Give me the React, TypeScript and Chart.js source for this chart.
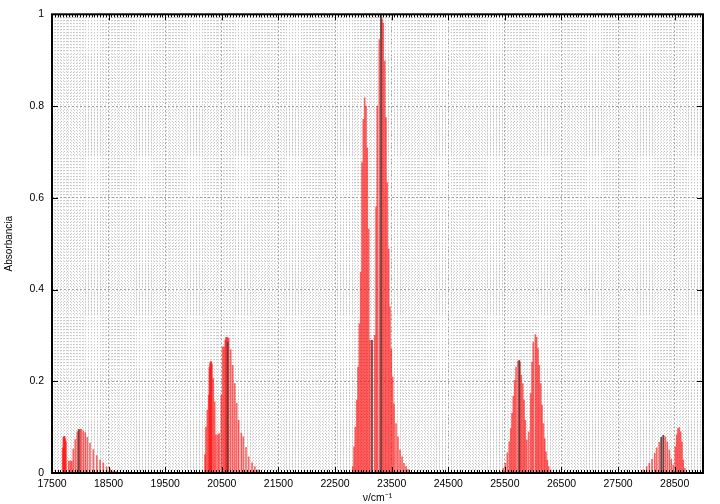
import React, { useEffect, useRef } from "react";
import { Chart, registerables } from "chart.js";

Chart.register(...registerables);

const X_MIN = 17500;
const X_MAX = 29000;
const X_MINOR_STEP = 50;
const Y_MINOR_DIV = 150;

const xTickLabels = ["17500", "18500", "19500", "20500", "21500", "22500", "23500", "24500", "25500", "26500", "27500", "28500"];
const yTickLabels = ["0", "0.2", "0.4", "0.6", "0.8", "1"];

const redWavenumbers = [
  17689, 17700, 17712, 17724, 17735, 17747, 17795, 17823, 17848,
  17876, 17912, 17947, 17972, 17995, 18018, 18053, 18088, 18124, 18171, 18230, 18290, 18348, 18406, 18466, 18525, 18578, 18631,
  20203, 20220, 20243, 20268, 20279, 20291, 20303, 20314, 20326, 20349, 20374, 20397,
  20432, 20455, 20491, 20515, 20538, 20561, 20574, 20586, 20604, 20621, 20657, 20692, 20727, 20763, 20798, 20844, 20879, 20927, 20975, 21033, 21081, 21139,
  22812, 22835, 22858, 22883, 22906, 22929, 22953, 22976, 22999, 23024, 23047, 23070, 23094, 23117, 23152, 23200,
  23224, 23246, 23282, 23312, 23330, 23352, 23377, 23400, 23423, 23448, 23471, 23494, 23518, 23541, 23577, 23612, 23647, 23683, 23718, 23753, 23789,
  25414, 25472, 25508, 25543, 25578, 25603, 25626, 25649, 25674, 25697, 25732, 25755, 25767, 25790, 25815, 25838, 25861, 25886,
  25921, 25956, 25979, 26002, 26038, 26062, 26085, 26108, 26133, 26156, 26180, 26204, 26227, 26250, 26274, 26309,
  27945, 28005, 28051, 28099, 28147, 28182, 28228, 28263, 28299, 28334, 28369, 28405, 28440, 28475,
  28511, 28535, 28558, 28581, 28606, 28629, 28652, 28677,
];
const redAbsorbance = [
  0.055, 0.078, 0.080, 0.080, 0.075, 0.068, 0.026, 0.026, 0.026,
  0.052, 0.073, 0.090, 0.095, 0.095, 0.095, 0.092, 0.088, 0.078, 0.065, 0.051, 0.038, 0.028, 0.022, 0.013, 0.009, 0.005, 0.003,
  0.040, 0.100, 0.137, 0.170, 0.231, 0.240, 0.243, 0.243, 0.238, 0.206, 0.155, 0.083,
  0.083, 0.086, 0.170, 0.275, 0.275, 0.290, 0.296, 0.296, 0.295, 0.293, 0.269, 0.235, 0.195, 0.152, 0.115, 0.087, 0.079, 0.056, 0.035, 0.022, 0.014, 0.007,
  0.014, 0.057, 0.100, 0.159, 0.231, 0.325, 0.438, 0.677, 0.771, 0.818, 0.800, 0.709, 0.532, 0.289, 0.289, 0.300,
  0.580, 0.800, 0.945, 1.000, 0.990, 0.981, 0.898, 0.775, 0.633, 0.488, 0.362, 0.271, 0.209, 0.151, 0.108, 0.079, 0.050, 0.035, 0.021, 0.014, 0.008,
  0.003, 0.010, 0.021, 0.044, 0.068, 0.097, 0.130, 0.167, 0.202, 0.231, 0.244, 0.245, 0.242, 0.213, 0.195, 0.159, 0.115, 0.072,
  0.090, 0.173, 0.242, 0.285, 0.302, 0.296, 0.271, 0.235, 0.195, 0.148, 0.108, 0.075, 0.046, 0.028, 0.014, 0.007,
  0.007, 0.014, 0.021, 0.030, 0.043, 0.055, 0.067, 0.078, 0.082, 0.079, 0.068, 0.050, 0.030, 0.017,
  0.057, 0.083, 0.097, 0.099, 0.090, 0.068, 0.028, 0.010,
];

const blackWavenumbers = [17972, 20604, 23152, 23312, 25755, 28263, 28299];
const blackAbsorbance = [0.094, 0.285, 0.289, 1.0, 0.245, 0.078, 0.082];

const xMajorValues = xTickLabels.map(Number);
const isXMajor = (v: number) => xMajorValues.some((m) => Math.abs(m - v) < 1e-6);
const isYMajor = (v: number) => Math.abs(v * 5 - Math.round(v * 5)) < 1e-6;

const framePlugin = {
  id: "frame",
  afterDatasetsDraw(chart: any) {
    const { ctx, chartArea: a, scales } = chart;
    const x = scales.x;
    const y = scales.y;
    ctx.save();
    ctx.strokeStyle = "#000";
    ctx.lineWidth = 1;
    ctx.beginPath();
    for (let v = X_MIN; v <= X_MAX + 1e-6; v += X_MINOR_STEP) {
      const px = Math.round(x.getPixelForValue(v)) + 0.5;
      const len = isXMajor(v) ? 6 : 3;
      ctx.moveTo(px, a.bottom);
      ctx.lineTo(px, a.bottom - len);
      ctx.moveTo(px, a.top);
      ctx.lineTo(px, a.top + len);
    }
    yTickLabels.forEach((lbl) => {
      const py = Math.round(y.getPixelForValue(Number(lbl))) + 0.5;
      ctx.moveTo(a.left, py);
      ctx.lineTo(a.left + 6, py);
      ctx.moveTo(a.right, py);
      ctx.lineTo(a.right - 6, py);
    });
    ctx.stroke();
    ctx.lineWidth = 2;
    ctx.strokeRect(a.left, a.top, a.right - a.left, a.bottom - a.top);
    ctx.restore();
  },
};

export default function App() {
  const canvasRef = useRef<HTMLCanvasElement | null>(null);

  useEffect(() => {
    if (!canvasRef.current) return;
    Chart.defaults.font.family = "'Liberation Sans', Arial, sans-serif";
    Chart.defaults.color = "#000";

    const redData = redWavenumbers.map((w, i) => ({ x: w, y: redAbsorbance[i] }));
    const blackData = blackWavenumbers.map((w, i) => ({ x: w, y: blackAbsorbance[i] }));

    const chart = new Chart(canvasRef.current, {
      type: "bar",
      data: {
        datasets: [
          {
            label: "black",
            data: blackData as any,
            backgroundColor: "rgba(60,60,60,0.75)",
            barThickness: 1,
            borderWidth: 0,
            grouped: false,
          } as any,
          {
            label: "red",
            data: redData as any,
            backgroundColor: "rgba(255,0,0,0.6)",
            barThickness: 1,
            borderWidth: 0,
            grouped: false,
          } as any,
        ],
      },
      options: {
        animation: false,
        responsive: false,
        events: [],
        layout: { padding: { top: 12, right: 17, left: 0, bottom: 0 } },
        plugins: { legend: { display: false }, tooltip: { enabled: false } },
        scales: {
          x: {
            type: "linear",
            min: X_MIN,
            max: X_MAX,
            offset: false,
            afterBuildTicks: (s: any) => {
              const t = [];
              for (let v = X_MIN; v <= X_MAX + 1e-6; v += X_MINOR_STEP) t.push({ value: v });
              s.ticks = t;
            },
            afterFit: (s: any) => {
              s.height = 31;
            },
            ticks: {
              autoSkip: false,
              maxRotation: 0,
              minRotation: 0,
              padding: 5,
              font: { size: 10.5 },
              callback: (v: any) => {
                const idx = xMajorValues.findIndex((m) => Math.abs(m - Number(v)) < 1e-6);
                return idx >= 0 ? xTickLabels[idx] : "";
              },
            },
            grid: {
              offset: false,
              drawTicks: false,
              lineWidth: 1,
              color: (c: any) => (c.tick && isXMajor(c.tick.value) ? "#a0a0a0" : "#c4c4c4"),
            },
            border: {
              display: false,
              dash: (c: any) => (c.tick && isXMajor(c.tick.value) ? [2, 2] : [1, 2]),
            },
            title: {
              display: true,
              text: "ν/cm⁻¹",
              font: { size: 10.5 },
              padding: { top: 0, bottom: 0 },
            },
          } as any,
          y: {
            type: "linear",
            min: 0,
            max: 1,
            afterBuildTicks: (s: any) => {
              const t = [];
              for (let k = 0; k <= Y_MINOR_DIV; k++) t.push({ value: k / Y_MINOR_DIV });
              s.ticks = t;
            },
            afterFit: (s: any) => {
              s.width = 52;
            },
            ticks: {
              autoSkip: false,
              padding: 8,
              font: { size: 10.5 },
              callback: (v: any) => {
                const n = Number(v);
                if (!isYMajor(n)) return "";
                return yTickLabels[Math.round(n * 5)];
              },
            },
            grid: {
              drawTicks: false,
              lineWidth: 1,
              color: (c: any) => (c.tick && isYMajor(c.tick.value) ? "#a0a0a0" : "#c4c4c4"),
            },
            border: {
              display: false,
              dash: (c: any) => (c.tick && isYMajor(c.tick.value) ? [2, 2] : [1, 2]),
            },
            title: {
              display: true,
              text: "Absorbancia",
              font: { size: 10 },
              padding: { top: 3, bottom: 0 },
            },
          } as any,
        },
      },
      plugins: [framePlugin as any],
    });
    return () => chart.destroy();
  }, []);

  return (
    <div style={{ position: "fixed", left: 0, top: 0, width: 720, height: 504, background: "#fff" }}>
      <canvas ref={canvasRef} width={720} height={504} style={{ display: "block" }} />
    </div>
  );
}
